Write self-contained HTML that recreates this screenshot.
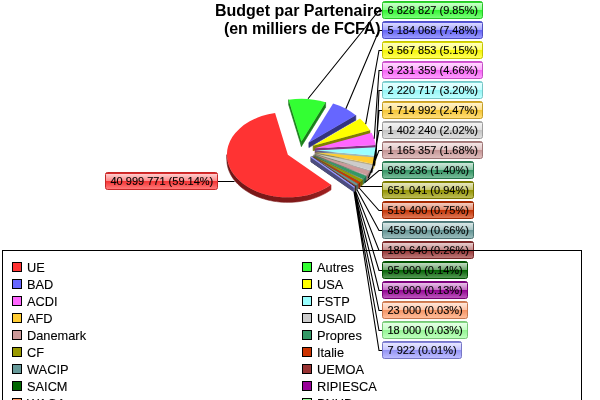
<!DOCTYPE html><html><head><meta charset="utf-8"><title>Budget par Partenaire</title>
<style>html,body{margin:0;padding:0;background:#fff;overflow:hidden}svg{display:block}text{font-family:"Liberation Sans",sans-serif;fill:#000}.t{font-weight:bold;font-size:16px;text-anchor:middle}.l{font-size:11px;stroke:#000;stroke-width:.12px}.g{font-size:12.8px;stroke:#000;stroke-width:.1px}</style></head><body>
<svg width="600" height="400" viewBox="0 0 600 400">
<defs>
<linearGradient id="g0" x1="0" y1="0" x2="0" y2="1"><stop offset="0.07" stop-color="#d82b2b"/><stop offset="0.09" stop-color="#ffcece"/><stop offset="0.49" stop-color="#ff8989"/><stop offset="0.5" stop-color="#f43030"/><stop offset="0.95" stop-color="#ff7676"/></linearGradient>
<linearGradient id="g1" x1="0" y1="0" x2="0" y2="1"><stop offset="0.07" stop-color="#2bd82b"/><stop offset="0.09" stop-color="#ceffce"/><stop offset="0.49" stop-color="#89ff89"/><stop offset="0.5" stop-color="#30f430"/><stop offset="0.95" stop-color="#76ff76"/></linearGradient>
<linearGradient id="g2" x1="0" y1="0" x2="0" y2="1"><stop offset="0.07" stop-color="#5656d8"/><stop offset="0.09" stop-color="#dadaff"/><stop offset="0.49" stop-color="#a6a6ff"/><stop offset="0.5" stop-color="#6161f4"/><stop offset="0.95" stop-color="#9898ff"/></linearGradient>
<linearGradient id="g3" x1="0" y1="0" x2="0" y2="1"><stop offset="0.07" stop-color="#d8d800"/><stop offset="0.09" stop-color="#ffffc2"/><stop offset="0.49" stop-color="#ffff6b"/><stop offset="0.5" stop-color="#f4f400"/><stop offset="0.95" stop-color="#ffff54"/></linearGradient>
<linearGradient id="g4" x1="0" y1="0" x2="0" y2="1"><stop offset="0.07" stop-color="#d856d8"/><stop offset="0.09" stop-color="#ffdaff"/><stop offset="0.49" stop-color="#ffa6ff"/><stop offset="0.5" stop-color="#f461f4"/><stop offset="0.95" stop-color="#ff98ff"/></linearGradient>
<linearGradient id="g5" x1="0" y1="0" x2="0" y2="1"><stop offset="0.07" stop-color="#82d8d8"/><stop offset="0.09" stop-color="#e7ffff"/><stop offset="0.49" stop-color="#c4ffff"/><stop offset="0.5" stop-color="#92f4f4"/><stop offset="0.95" stop-color="#bbffff"/></linearGradient>
<linearGradient id="g6" x1="0" y1="0" x2="0" y2="1"><stop offset="0.07" stop-color="#d8ad2b"/><stop offset="0.09" stop-color="#fff3ce"/><stop offset="0.49" stop-color="#ffe189"/><stop offset="0.5" stop-color="#f4c330"/><stop offset="0.95" stop-color="#ffdd76"/></linearGradient>
<linearGradient id="g7" x1="0" y1="0" x2="0" y2="1"><stop offset="0.07" stop-color="#adadad"/><stop offset="0.09" stop-color="#f3f3f3"/><stop offset="0.49" stop-color="#e1e1e1"/><stop offset="0.5" stop-color="#c3c3c3"/><stop offset="0.95" stop-color="#dddddd"/></linearGradient>
<linearGradient id="g8" x1="0" y1="0" x2="0" y2="1"><stop offset="0.07" stop-color="#ad8282"/><stop offset="0.09" stop-color="#f3e7e7"/><stop offset="0.49" stop-color="#e1c4c4"/><stop offset="0.5" stop-color="#c39292"/><stop offset="0.95" stop-color="#ddbbbb"/></linearGradient>
<linearGradient id="g9" x1="0" y1="0" x2="0" y2="1"><stop offset="0.07" stop-color="#2b8256"/><stop offset="0.09" stop-color="#cee7da"/><stop offset="0.49" stop-color="#89c4a6"/><stop offset="0.5" stop-color="#309261"/><stop offset="0.95" stop-color="#76bb98"/></linearGradient>
<linearGradient id="g10" x1="0" y1="0" x2="0" y2="1"><stop offset="0.07" stop-color="#828200"/><stop offset="0.09" stop-color="#e7e7c2"/><stop offset="0.49" stop-color="#c4c46b"/><stop offset="0.5" stop-color="#929200"/><stop offset="0.95" stop-color="#bbbb54"/></linearGradient>
<linearGradient id="g11" x1="0" y1="0" x2="0" y2="1"><stop offset="0.07" stop-color="#ad2b00"/><stop offset="0.09" stop-color="#f3cec2"/><stop offset="0.49" stop-color="#e1896b"/><stop offset="0.5" stop-color="#c33000"/><stop offset="0.95" stop-color="#dd7654"/></linearGradient>
<linearGradient id="g12" x1="0" y1="0" x2="0" y2="1"><stop offset="0.07" stop-color="#568282"/><stop offset="0.09" stop-color="#dae7e7"/><stop offset="0.49" stop-color="#a6c4c4"/><stop offset="0.5" stop-color="#619292"/><stop offset="0.95" stop-color="#98bbbb"/></linearGradient>
<linearGradient id="g13" x1="0" y1="0" x2="0" y2="1"><stop offset="0.07" stop-color="#822b2b"/><stop offset="0.09" stop-color="#e7cece"/><stop offset="0.49" stop-color="#c48989"/><stop offset="0.5" stop-color="#923030"/><stop offset="0.95" stop-color="#bb7676"/></linearGradient>
<linearGradient id="g14" x1="0" y1="0" x2="0" y2="1"><stop offset="0.07" stop-color="#005600"/><stop offset="0.09" stop-color="#c2dac2"/><stop offset="0.49" stop-color="#6ba66b"/><stop offset="0.5" stop-color="#006100"/><stop offset="0.95" stop-color="#549854"/></linearGradient>
<linearGradient id="g15" x1="0" y1="0" x2="0" y2="1"><stop offset="0.07" stop-color="#820082"/><stop offset="0.09" stop-color="#e7c2e7"/><stop offset="0.49" stop-color="#c46bc4"/><stop offset="0.5" stop-color="#920092"/><stop offset="0.95" stop-color="#bb54bb"/></linearGradient>
<linearGradient id="g16" x1="0" y1="0" x2="0" y2="1"><stop offset="0.07" stop-color="#d88256"/><stop offset="0.09" stop-color="#ffe7da"/><stop offset="0.49" stop-color="#ffc4a6"/><stop offset="0.5" stop-color="#f49261"/><stop offset="0.95" stop-color="#ffbb98"/></linearGradient>
<linearGradient id="g17" x1="0" y1="0" x2="0" y2="1"><stop offset="0.07" stop-color="#82d882"/><stop offset="0.09" stop-color="#e7ffe7"/><stop offset="0.49" stop-color="#c4ffc4"/><stop offset="0.5" stop-color="#92f492"/><stop offset="0.95" stop-color="#bbffbb"/></linearGradient>
<linearGradient id="g18" x1="0" y1="0" x2="0" y2="1"><stop offset="0.07" stop-color="#8282d8"/><stop offset="0.09" stop-color="#e7e7ff"/><stop offset="0.49" stop-color="#c4c4ff"/><stop offset="0.5" stop-color="#9292f4"/><stop offset="0.95" stop-color="#bbbbff"/></linearGradient>
</defs>
<rect width="600" height="400" fill="#fff"/>
<text class="t" x="298.5" y="15.7">Budget par Partenaire</text>
<text class="t" x="302.3" y="34.3" textLength="156.6" lengthAdjust="spacing">(en milliers de FCFA)</text>
<path d="M301.42 141.41 L288.64 99.66 L288.64 104.66 L301.42 146.41Z" fill="#197f19" stroke="#197f19" stroke-width="0.6"/>
<path d="M301.42 141.41 L325.62 102.21 L325.62 107.21 L301.42 146.41Z" fill="#197f19" stroke="#197f19" stroke-width="0.6"/>
<path d="M301.42 141.41 L288.64 99.66 A61 42.7 0 0 1 325.62 102.21Z" fill="#33ff33"/>
<path d="M308.89 142.59 L355.82 115.31 L355.82 120.31 L308.89 147.59Z" fill="#33337f" stroke="#33337f" stroke-width="0.6"/>
<path d="M308.89 142.59 L333.09 103.39 A61 42.7 0 0 1 355.82 115.31Z" fill="#6666ff"/>
<path d="M313.1 145.67 L369.98 130.24 L369.98 135.24 L313.1 150.67Z" fill="#7f7f00" stroke="#7f7f00" stroke-width="0.6"/>
<path d="M313.1 145.67 L360.03 118.39 A61 42.7 0 0 1 369.98 130.24Z" fill="#ffff00"/>
<path d="M314.74 148.28 L375.56 145 L375.56 150 L314.74 153.28Z" fill="#7f337f"/>
<path d="M314.74 148.28 L371.62 132.85 A61 42.7 0 0 1 375.56 145Z" fill="#ff66ff"/>
<path d="M315.1 150.52 L375.62 155.81 L375.62 160.81 L315.1 155.52Z" fill="#4c7f7f" fill-opacity="0.55"/>
<path d="M376.1 150.52 L376.04 152.29 L375.89 154.05 L375.62 155.81 L375.62 160.81 L375.89 159.05 L376.04 157.29 L376.1 155.52Z" fill="#7acbcb" stroke="#7acbcb" stroke-width="0.6"/>
<path d="M315.1 150.52 L375.92 147.24 A61 42.7 0 0 1 375.62 155.81Z" fill="#99ffff"/>
<path d="M314.8 152.13 L373.43 163.93 L373.43 168.93 L314.8 157.13Z" fill="#7f6619" fill-opacity="0.55"/>
<path d="M375.33 157.43 L374.86 159.62 L374.23 161.79 L373.43 163.93 L373.43 168.93 L374.23 166.79 L374.86 164.62 L375.33 162.43Z" fill="#c8a028" stroke="#c8a028" stroke-width="0.6"/>
<path d="M314.8 152.13 L375.33 157.43 A61 42.7 0 0 1 373.43 163.93Z" fill="#ffcc33"/>
<path d="M314.25 153.38 L370.27 170.27 L370.27 175.27 L314.25 158.38Z" fill="#666666" fill-opacity="0.55"/>
<path d="M372.88 165.17 L372.11 166.9 L371.25 168.6 L370.27 170.27 L370.27 175.27 L371.25 173.6 L372.11 171.9 L372.88 170.17Z" fill="#9c9c9c" stroke="#9c9c9c" stroke-width="0.6"/>
<path d="M314.25 153.38 L372.88 165.17 A61 42.7 0 0 1 370.27 170.27Z" fill="#cccccc"/>
<path d="M313.59 154.35 L366.76 175.29 L366.76 180.29 L313.59 159.35Z" fill="#664c4c" fill-opacity="0.55"/>
<path d="M369.61 171.25 L368.73 172.62 L367.78 173.97 L366.76 175.29 L366.76 180.29 L367.78 178.97 L368.73 177.62 L369.61 176.25Z" fill="#977171" stroke="#977171" stroke-width="0.6"/>
<path d="M313.59 154.35 L369.61 171.25 A61 42.7 0 0 1 366.76 175.29Z" fill="#cc9999"/>
<path d="M312.91 155.12 L363.25 179.24 L363.25 184.24 L312.91 160.12Z" fill="#194c33" fill-opacity="0.55"/>
<path d="M366.07 176.06 L364.71 177.68 L363.25 179.24 L363.25 184.24 L364.71 182.68 L366.07 181.06Z" fill="#246d49" stroke="#246d49" stroke-width="0.6"/>
<path d="M312.91 155.12 L366.07 176.06 A61 42.7 0 0 1 363.25 179.24Z" fill="#339966"/>
<path d="M312.32 155.68 L360.53 181.84 L360.53 186.84 L312.32 160.68Z" fill="#4c4c00" fill-opacity="0.55"/>
<path d="M362.65 179.8 L361.62 180.83 L360.53 181.84 L360.53 186.84 L361.62 185.83 L362.65 184.8Z" fill="#6a6a00" stroke="#6a6a00" stroke-width="0.6"/>
<path d="M312.32 155.68 L362.65 179.8 A61 42.7 0 0 1 360.53 181.84Z" fill="#999900"/>
<path d="M311.85 156.06 L358.25 183.78 L358.25 188.78 L311.85 161.06Z" fill="#661900" fill-opacity="0.55"/>
<path d="M360.07 182.22 L358.25 183.78 L358.25 188.78 L360.07 187.22Z" fill="#8a2200" stroke="#8a2200" stroke-width="0.6"/>
<path d="M311.85 156.06 L360.07 182.22 A61 42.7 0 0 1 358.25 183.78Z" fill="#cc3300"/>
<path d="M311.43 156.37 L356.15 185.42 L356.15 190.42 L311.43 161.37Z" fill="#334c4c" fill-opacity="0.55"/>
<path d="M357.84 184.09 L356.15 185.42 L356.15 190.42 L357.84 189.09Z" fill="#446666" stroke="#446666" stroke-width="0.6"/>
<path d="M311.43 156.37 L357.84 184.09 A61 42.7 0 0 1 356.15 185.42Z" fill="#669999"/>
<path d="M311.15 156.57 L355.18 186.12 L355.18 191.12 L311.15 161.57Z" fill="#4c1919"/>
<path d="M355.86 185.61 L355.18 186.12 L355.18 191.12 L355.86 190.61Z" fill="#642121" stroke="#642121" stroke-width="0.6"/>
<path d="M311.15 156.57 L355.86 185.61 A61 42.7 0 0 1 355.18 186.12Z" fill="#993333"/>
<path d="M311.02 156.65 L354.69 186.47 L354.69 191.47 L311.02 161.65Z" fill="#003300"/>
<path d="M355.05 186.2 L354.69 186.47 L354.69 191.47 L355.05 191.2Z" fill="#004200" stroke="#004200" stroke-width="0.6"/>
<path d="M311.02 156.65 L355.05 186.2 A61 42.7 0 0 1 354.69 186.47Z" fill="#006600"/>
<path d="M310.94 156.7 L354.26 186.76 L354.26 191.76 L310.94 161.7Z" fill="#4c004c"/>
<path d="M354.6 186.52 L354.26 186.76 L354.26 191.76 L354.6 191.52Z" fill="#630063" stroke="#630063" stroke-width="0.6"/>
<path d="M310.94 156.7 L354.6 186.52 A61 42.7 0 0 1 354.26 186.76Z" fill="#990099"/>
<path d="M310.89 156.74 L354.12 186.86 L354.12 191.86 L310.89 161.74Z" fill="#7f4c33"/>
<path d="M354.21 186.8 L354.12 186.86 L354.12 191.86 L354.21 191.8Z" fill="#a66342" stroke="#a66342" stroke-width="0.6"/>
<path d="M310.89 156.74 L354.21 186.8 A61 42.7 0 0 1 354.12 186.86Z" fill="#ff9966"/>
<path d="M310.87 156.75 L354.03 186.92 L354.03 191.92 L310.87 161.75Z" fill="#4c7f4c"/>
<path d="M354.1 186.87 L354.03 186.92 L354.03 191.92 L354.1 191.87Z" fill="#63a563" stroke="#63a563" stroke-width="0.6"/>
<path d="M310.87 156.75 L354.1 186.87 A61 42.7 0 0 1 354.03 186.92Z" fill="#99ff99"/>
<path d="M310.86 156.76 L353.99 186.95 L353.99 191.95 L310.86 161.76Z" fill="#4c4c7f" stroke="#4c4c7f" stroke-width="0.6"/>
<path d="M354.02 186.93 L353.99 186.95 L353.99 191.95 L354.02 191.93Z" fill="#6363a5" stroke="#6363a5" stroke-width="0.6"/>
<path d="M310.86 156.76 L354.02 186.93 A61 42.7 0 0 1 353.99 186.95Z" fill="#9999ff" stroke="#9999ff" stroke-width="1.3"/>
<linearGradient id="w0" gradientUnits="userSpaceOnUse" x1="226.86" y1="0" x2="331" y2="0"><stop offset="0.000" stop-color="#6d1515"/><stop offset="0.002" stop-color="#6d1515"/><stop offset="0.008" stop-color="#6e1616"/><stop offset="0.019" stop-color="#6e1616"/><stop offset="0.033" stop-color="#6f1616"/><stop offset="0.051" stop-color="#701616"/><stop offset="0.073" stop-color="#711616"/><stop offset="0.099" stop-color="#731717"/><stop offset="0.128" stop-color="#741717"/><stop offset="0.160" stop-color="#761717"/><stop offset="0.195" stop-color="#771717"/><stop offset="0.234" stop-color="#791818"/><stop offset="0.274" stop-color="#7a1818"/><stop offset="0.317" stop-color="#7b1818"/><stop offset="0.362" stop-color="#7c1818"/><stop offset="0.408" stop-color="#7d1919"/><stop offset="0.455" stop-color="#7e1919"/><stop offset="0.504" stop-color="#7f1919"/><stop offset="0.553" stop-color="#7f1919"/><stop offset="0.602" stop-color="#7f1919"/><stop offset="0.651" stop-color="#801919"/><stop offset="0.700" stop-color="#821a1a"/><stop offset="0.748" stop-color="#851a1a"/><stop offset="0.795" stop-color="#891b1b"/><stop offset="0.840" stop-color="#8d1c1c"/><stop offset="0.883" stop-color="#931d1d"/><stop offset="0.925" stop-color="#991e1e"/><stop offset="0.964" stop-color="#9f1f1f"/><stop offset="1.000" stop-color="#a52121"/></linearGradient>
<path d="M331 184.86 L328.73 186.37 L326.36 187.79 L323.89 189.12 L321.32 190.37 L318.66 191.52 L315.93 192.58 L313.12 193.53 L310.24 194.39 L307.31 195.14 L304.32 195.78 L301.29 196.32 L298.23 196.74 L295.14 197.06 L292.03 197.27 L288.9 197.36 L285.78 197.34 L282.66 197.21 L279.56 196.97 L276.47 196.61 L273.42 196.15 L270.4 195.58 L267.44 194.9 L264.52 194.12 L261.66 193.23 L258.88 192.24 L256.17 191.15 L253.54 189.97 L251 188.69 L248.56 187.32 L246.23 185.87 L244 184.34 L241.89 182.73 L239.89 181.04 L238.03 179.29 L236.29 177.47 L234.69 175.59 L233.23 173.66 L231.91 171.68 L230.74 169.65 L229.72 167.58 L228.85 165.48 L228.14 163.35 L227.58 161.2 L227.18 159.03 L226.94 156.85 L226.86 154.67 L226.86 159.67 L226.94 161.85 L227.18 164.03 L227.58 166.2 L228.14 168.35 L228.85 170.48 L229.72 172.58 L230.74 174.65 L231.91 176.68 L233.23 178.66 L234.69 180.59 L236.29 182.47 L238.03 184.29 L239.89 186.04 L241.89 187.73 L244 189.34 L246.23 190.87 L248.56 192.32 L251 193.69 L253.54 194.97 L256.17 196.15 L258.88 197.24 L261.66 198.23 L264.52 199.12 L267.44 199.9 L270.4 200.58 L273.42 201.15 L276.47 201.61 L279.56 201.97 L282.66 202.21 L285.78 202.34 L288.9 202.36 L292.03 202.27 L295.14 202.06 L298.23 201.74 L301.29 201.32 L304.32 200.78 L307.31 200.14 L310.24 199.39 L313.12 198.53 L315.93 197.58 L318.66 196.52 L321.32 195.37 L323.89 194.12 L326.36 192.79 L328.73 191.37 L331 189.86Z" fill="url(#w0)" stroke="url(#w0)" stroke-width="0.6"/>
<path d="M287.86 154.67 L331 184.86 A61 42.7 0 1 1 275.08 112.91Z" fill="#ff3333"/>
<path d="M382 10.5 L379 10.5 L308.02 98.72 M382 30.5 L379 30.5 L345.86 108.81 M382 50.5 L379 50.5 L365.69 124.03 M382 70.5 L379 70.5 L374.23 138.82 M382 90.5 L379 90.5 L376.08 156.53 M382 110.5 L379 110.5 L374.56 165.7 M382 130.5 L379 130.5 L371.69 172.75 M382 150.5 L379 150.5 L368.26 178.3 M382 170.5 L379 170.5 L364.71 182.68 M382 186.5 L360.62 186.5 M382 210.5 L379 210.5 L359.17 188.01 M382 230.5 L379 230.5 L357 189.76 M382 250.5 L379 250.5 L355.52 190.87 M382 270.5 L379 270.5 L354.87 191.34 M382 290.5 L379 290.5 L354.43 191.64 M382 310.5 L379 310.5 L354.17 191.83 M382 330.5 L379 330.5 L354.07 191.9 M382 350.5 L379 350.5 L354.01 191.94 M218 181.5 L234.5 181.5" fill="none" stroke="#000" stroke-width="1.1"/>
<rect x="382.5" y="1.5" width="100" height="17" rx="2" fill="url(#g1)" stroke="#27c627"/>
<text class="l" x="387.5" y="14.0">6 828 827 (9.85%)</text>
<rect x="382.5" y="21.5" width="100" height="17" rx="2" fill="url(#g2)" stroke="#4f4fc6"/>
<text class="l" x="387.5" y="34.0">5 184 068 (7.48%)</text>
<rect x="382.5" y="41.5" width="100" height="17" rx="2" fill="url(#g3)" stroke="#c6c600"/>
<text class="l" x="387.5" y="54.0">3 567 853 (5.15%)</text>
<rect x="382.5" y="61.5" width="100" height="17" rx="2" fill="url(#g4)" stroke="#c64fc6"/>
<text class="l" x="387.5" y="74.0">3 231 359 (4.66%)</text>
<rect x="382.5" y="81.5" width="100" height="17" rx="2" fill="url(#g5)" stroke="#77c6c6"/>
<text class="l" x="387.5" y="94.0">2 220 717 (3.20%)</text>
<rect x="382.5" y="101.5" width="100" height="17" rx="2" fill="url(#g6)" stroke="#c69f27"/>
<text class="l" x="387.5" y="114.0">1 714 992 (2.47%)</text>
<rect x="382.5" y="121.5" width="100" height="17" rx="2" fill="url(#g7)" stroke="#9f9f9f"/>
<text class="l" x="387.5" y="134.0">1 402 240 (2.02%)</text>
<rect x="382.5" y="141.5" width="100" height="17" rx="2" fill="url(#g8)" stroke="#9f7777"/>
<text class="l" x="387.5" y="154.0">1 165 357 (1.68%)</text>
<rect x="382.5" y="161.5" width="91" height="17" rx="2" fill="url(#g9)" stroke="#27774f"/>
<text class="l" x="387.5" y="174.0">968 236 (1.40%)</text>
<rect x="382.5" y="181.5" width="91" height="17" rx="2" fill="url(#g10)" stroke="#777700"/>
<text class="l" x="387.5" y="194.0">651 041 (0.94%)</text>
<rect x="382.5" y="201.5" width="91" height="17" rx="2" fill="url(#g11)" stroke="#9f2700"/>
<text class="l" x="387.5" y="214.0">519 400 (0.75%)</text>
<rect x="382.5" y="221.5" width="91" height="17" rx="2" fill="url(#g12)" stroke="#4f7777"/>
<text class="l" x="387.5" y="234.0">459 500 (0.66%)</text>
<rect x="382.5" y="241.5" width="91" height="17" rx="2" fill="url(#g13)" stroke="#772727"/>
<text class="l" x="387.5" y="254.0">180 640 (0.26%)</text>
<rect x="382.5" y="261.5" width="85" height="17" rx="2" fill="url(#g14)" stroke="#004f00"/>
<text class="l" x="387.5" y="274.0">95 000 (0.14%)</text>
<rect x="382.5" y="281.5" width="85" height="17" rx="2" fill="url(#g15)" stroke="#770077"/>
<text class="l" x="387.5" y="294.0">88 000 (0.13%)</text>
<rect x="382.5" y="301.5" width="85" height="17" rx="2" fill="url(#g16)" stroke="#c6774f"/>
<text class="l" x="387.5" y="314.0">23 000 (0.03%)</text>
<rect x="382.5" y="321.5" width="85" height="17" rx="2" fill="url(#g17)" stroke="#77c677"/>
<text class="l" x="387.5" y="334.0">18 000 (0.03%)</text>
<rect x="382.5" y="341.5" width="79" height="17" rx="2" fill="url(#g18)" stroke="#7777c6"/>
<text class="l" x="387.5" y="354.0">7 922 (0.01%)</text>
<rect x="105.5" y="172.5" width="112" height="17" rx="2" fill="url(#g0)" stroke="#c62727"/>
<text class="l" x="110.5" y="185.0">40 999 771 (59.14%)</text>
<rect x="2.5" y="250.5" width="579" height="160" fill="none" stroke="#000"/>
<rect x="12.5" y="262.5" width="9" height="9" fill="#ff3333" stroke="#000"/>
<text class="g" x="27" y="272">UE</text>
<rect x="302.5" y="262.5" width="9" height="9" fill="#33ff33" stroke="#000"/>
<text class="g" x="317" y="272">Autres</text>
<rect x="12.5" y="279.5" width="9" height="9" fill="#6666ff" stroke="#000"/>
<text class="g" x="27" y="289">BAD</text>
<rect x="302.5" y="279.5" width="9" height="9" fill="#ffff00" stroke="#000"/>
<text class="g" x="317" y="289">USA</text>
<rect x="12.5" y="296.5" width="9" height="9" fill="#ff66ff" stroke="#000"/>
<text class="g" x="27" y="306">ACDI</text>
<rect x="302.5" y="296.5" width="9" height="9" fill="#99ffff" stroke="#000"/>
<text class="g" x="317" y="306">FSTP</text>
<rect x="12.5" y="313.5" width="9" height="9" fill="#ffcc33" stroke="#000"/>
<text class="g" x="27" y="323">AFD</text>
<rect x="302.5" y="313.5" width="9" height="9" fill="#cccccc" stroke="#000"/>
<text class="g" x="317" y="323">USAID</text>
<rect x="12.5" y="330.5" width="9" height="9" fill="#cc9999" stroke="#000"/>
<text class="g" x="27" y="340">Danemark</text>
<rect x="302.5" y="330.5" width="9" height="9" fill="#339966" stroke="#000"/>
<text class="g" x="317" y="340">Propres</text>
<rect x="12.5" y="347.5" width="9" height="9" fill="#999900" stroke="#000"/>
<text class="g" x="27" y="357">CF</text>
<rect x="302.5" y="347.5" width="9" height="9" fill="#cc3300" stroke="#000"/>
<text class="g" x="317" y="357">Italie</text>
<rect x="12.5" y="364.5" width="9" height="9" fill="#669999" stroke="#000"/>
<text class="g" x="27" y="374">WACIP</text>
<rect x="302.5" y="364.5" width="9" height="9" fill="#993333" stroke="#000"/>
<text class="g" x="317" y="374">UEMOA</text>
<rect x="12.5" y="381.5" width="9" height="9" fill="#006600" stroke="#000"/>
<text class="g" x="27" y="391">SAICM</text>
<rect x="302.5" y="381.5" width="9" height="9" fill="#990099" stroke="#000"/>
<text class="g" x="317" y="391">RIPIESCA</text>
<rect x="12.5" y="398.5" width="9" height="9" fill="#ff9966" stroke="#000"/>
<text class="g" x="27" y="408">WAGA</text>
<rect x="302.5" y="398.5" width="9" height="9" fill="#99ff99" stroke="#000"/>
<text class="g" x="317" y="408">PNUD</text>
</svg></body></html>
